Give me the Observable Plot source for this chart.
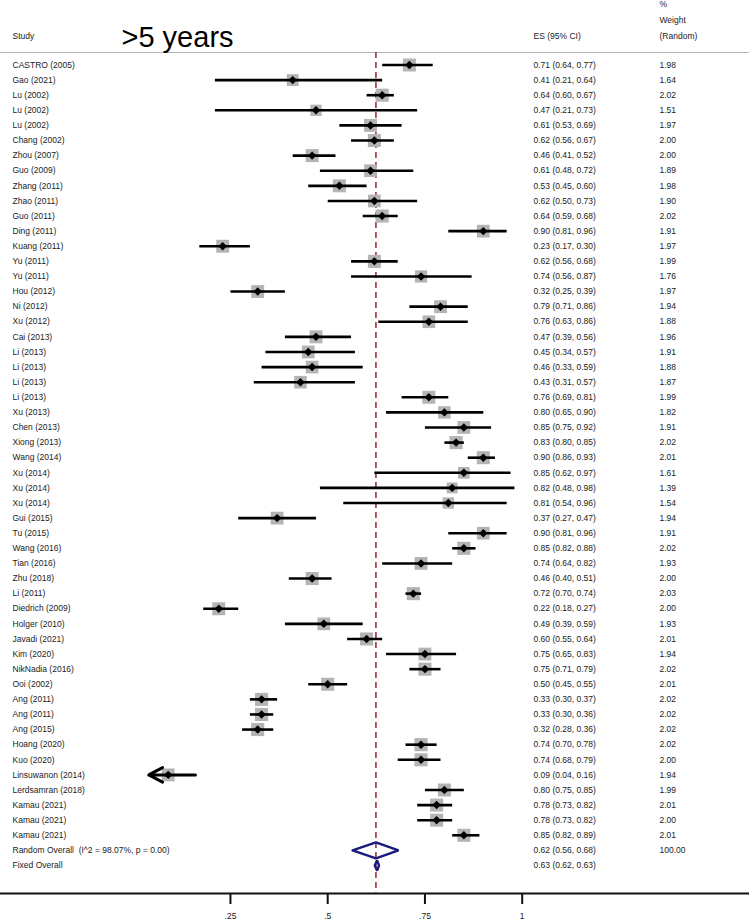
<!DOCTYPE html>
<html><head><meta charset="utf-8">
<script src="https://cdn.jsdelivr.net/npm/d3@7"></script>
<script src="https://cdn.jsdelivr.net/npm/@observablehq/plot@0.6"></script>
<style>body{margin:0;background:#fff}</style>
</head><body><div id="chart"></div>
<script>
const studies = ["CASTRO (2005)","Gao (2021)","Lu (2002)","Lu (2002)","Lu (2002)","Chang (2002)","Zhou (2007)","Guo (2009)","Zhang (2011)","Zhao (2011)","Guo (2011)","Ding (2011)","Kuang (2011)","Yu (2011)","Yu (2011)","Hou (2012)","Ni (2012)","Xu (2012)","Cai (2013)","Li (2013)","Li (2013)","Li (2013)","Li (2013)","Xu (2013)","Chen (2013)","Xiong (2013)","Wang (2014)","Xu (2014)","Xu (2014)","Xu (2014)","Gui (2015)","Tu (2015)","Wang (2016)","Tian (2016)","Zhu (2018)","Li (2011)","Diedrich (2009)","Holger (2010)","Javadi (2021)","Kim (2020)","NikNadia (2016)","Ooi (2002)","Ang (2011)","Ang (2011)","Ang (2015)","Hoang (2020)","Kuo (2020)","Linsuwanon (2014)","Lerdsamran (2018)","Kamau (2021)","Kamau (2021)","Kamau (2021)"];
const es =    [0.71,0.41,0.64,0.47,0.61,0.62,0.46,0.61,0.53,0.62,0.64,0.90,0.23,0.62,0.74,0.32,0.79,0.76,0.47,0.45,0.46,0.43,0.76,0.80,0.85,0.83,0.90,0.85,0.82,0.81,0.37,0.90,0.85,0.74,0.46,0.72,0.22,0.49,0.60,0.75,0.75,0.50,0.33,0.33,0.32,0.74,0.74,0.09,0.80,0.78,0.78,0.85];
const lower = [0.64,0.21,0.60,0.21,0.53,0.56,0.41,0.48,0.45,0.50,0.59,0.81,0.17,0.56,0.56,0.25,0.71,0.63,0.39,0.34,0.33,0.31,0.69,0.65,0.75,0.80,0.86,0.62,0.48,0.54,0.27,0.81,0.82,0.64,0.40,0.70,0.18,0.39,0.55,0.65,0.71,0.45,0.30,0.30,0.28,0.70,0.68,0.04,0.75,0.73,0.73,0.82];
const upper = [0.77,0.64,0.67,0.73,0.69,0.67,0.52,0.72,0.60,0.73,0.68,0.96,0.30,0.68,0.87,0.39,0.86,0.86,0.56,0.57,0.59,0.57,0.81,0.90,0.92,0.85,0.93,0.97,0.98,0.96,0.47,0.96,0.88,0.82,0.51,0.74,0.27,0.59,0.64,0.83,0.79,0.55,0.37,0.36,0.36,0.78,0.79,0.16,0.85,0.82,0.82,0.89];
const weight = [1.98,1.64,2.02,1.51,1.97,2.00,2.00,1.89,1.98,1.90,2.02,1.91,1.97,1.99,1.76,1.97,1.94,1.88,1.96,1.91,1.88,1.87,1.99,1.82,1.91,2.02,2.01,1.61,1.39,1.54,1.94,1.91,2.02,1.93,2.00,2.03,2.00,1.93,2.01,1.94,2.02,2.01,2.02,2.02,2.02,2.02,2.00,1.94,1.99,2.01,2.00,2.01];

const overallLabels = ["Random Overall  (I^2 = 98.07%, p = 0.00)", "Fixed Overall"];
const overallES = [0.624, 0.627];
const overallLower = [0.564, 0.621];
const overallUpper = [0.682, 0.632];
const overallWeight = ["100.00", ""];

const xTicks = [0.25, 0.5, 0.75, 1];
const xTickLabels = [".25", ".5", ".75", "1"];
const subgroupTitle = ">5 years";
const headers = {study: "Study", es: "ES (95% CI)", w1: "%", w2: "Weight", w3: "(Random)"};

const fmt = v => v.toFixed(2);
const axisMin = 0.05;
const rows = studies.map((s, i) => ({
  row: i + 1, study: s, es: es[i], lo: lower[i], hi: upper[i], w: weight[i],
  label: `${fmt(es[i])} (${fmt(lower[i])}, ${fmt(upper[i])})`, wl: weight[i].toFixed(2)
}));
const overall = overallLabels.map((s, i) => ({
  row: studies.length + 1 + i, study: s, es: overallES[i], lo: overallLower[i], hi: overallUpper[i],
  label: `${fmt(overallES[i])} (${fmt(overallLower[i])}, ${fmt(overallUpper[i])})`, wl: overallWeight[i],
  h: i === 0 ? 0.53 : 0.34
}));
const normal = rows.filter(d => d.lo >= axisMin);
const clipped = rows.filter(d => d.lo < axisMin);
const diamondPts = overall.flatMap((d, k) => [
  {x: d.lo, y: d.row, k}, {x: d.es, y: d.row - d.h, k}, {x: d.hi, y: d.row, k},
  {x: d.es, y: d.row + d.h, k}, {x: d.lo, y: d.row, k}
]);
const allRows = rows.concat(overall);

const font = "Liberation Sans, Arial, Helvetica, sans-serif";
const txt = "#222";
const head = (t, dx, dy, extra = {}) => Plot.text([t], {text: d => d, frameAnchor: "top-left", dx, dy, textAnchor: "start", lineAnchor: "middle", fill: txt, ...extra});

const chart = Plot.plot({
  width: 749, height: 921,
  marginLeft: 0, marginRight: 0, marginTop: 52, marginBottom: 28,
  style: {fontFamily: font, fontSize: "8.5px", background: "white", color: txt},
  x: {domain: [-0.3411, 1.5843], axis: null},
  y: {domain: [1, 54], range: [64.5, 865], axis: null},
  r: {domain: [0, 2.03], range: [0, 7.4]},
  marks: [
    Plot.frame({anchor: "top", stroke: "#b5b5b5", strokeWidth: 1}),
    Plot.frame({anchor: "bottom", stroke: "#111", strokeWidth: 2}),
    Plot.axisX({ticks: xTicks, tickFormat: d => xTickLabels[xTicks.indexOf(d)], tickSize: 11, tickPadding: 8,
      stroke: "#111", strokeWidth: 2, fontSize: 8.5, fill: txt, label: null}),
    Plot.ruleX([overallES[0]], {stroke: "#a4303a", strokeWidth: 1.6, strokeDasharray: "6,4"}),
    Plot.dot(rows, {x: "es", y: "row", r: "w", symbol: "square", fill: "#b4b4b4", stroke: null}),
    Plot.link(normal, {x1: "lo", x2: "hi", y1: "row", y2: "row", stroke: "#000", strokeWidth: 2.6}),
    Plot.arrow(clipped, {x1: "hi", x2: "lo", y1: "row", y2: "row", stroke: "#000", strokeWidth: 3, headLength: 8, headAngle: 55}),
    Plot.dot(rows, {x: "es", y: "row", r: 3.8, symbol: "diamond2", fill: "#000", stroke: null}),
    Plot.line(diamondPts, {x: "x", y: "y", z: "k", stroke: "#1a1a7e", strokeWidth: 2.4, strokeLinejoin: "miter", curve: "linear"}),
    Plot.text(allRows, {y: "row", text: "study", frameAnchor: "left", dx: 12, textAnchor: "start", fill: txt}),
    Plot.text(allRows, {y: "row", text: "label", frameAnchor: "left", dx: 533, textAnchor: "start", fill: txt}),
    Plot.text(allRows, {y: "row", text: "wl", frameAnchor: "left", dx: 659, textAnchor: "start", fill: txt}),
    head(headers.study, 12, -16),
    head(headers.es, 533, -16),
    head(headers.w1, 659, -48),
    head(headers.w2, 659, -32),
    head(headers.w3, 659, -16),
    head(subgroupTitle, 121, -15, {fill: "#000", fontSize: 29})
  ]
});
document.getElementById("chart").appendChild(chart);
</script>
</body></html>
